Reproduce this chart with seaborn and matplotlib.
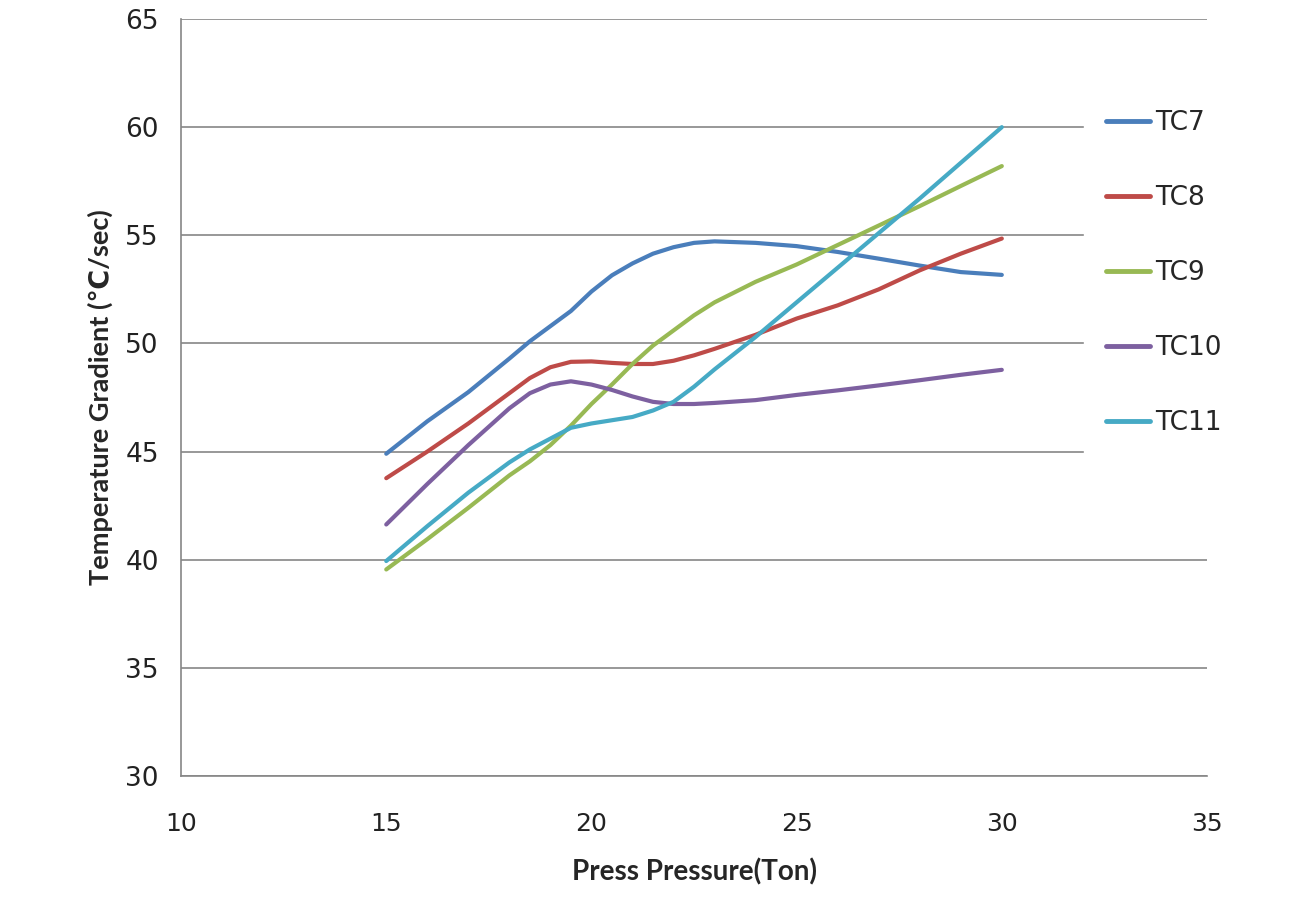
import numpy as np
import pandas as pd
import matplotlib
matplotlib.use("Agg")
import matplotlib.pyplot as plt
import seaborn as sns

# --- values
pressure = [15, 16, 17, 18, 18.5, 19, 19.5, 20, 20.5, 21, 21.5, 22, 22.5, 23, 24, 25, 26, 27, 28, 29, 30]
tc7 = [44.9, 46.4, 47.75, 49.3, 50.1, 50.8, 51.5, 52.4, 53.15, 53.7, 54.15, 54.45, 54.65, 54.72, 54.65, 54.5,
       54.23, 53.92, 53.6, 53.3, 53.17]
tc8 = [43.77, 45.0, 46.3, 47.7, 48.4, 48.9, 49.15, 49.17, 49.1, 49.05, 49.05, 49.2, 49.45, 49.75, 50.4, 51.15,
       51.76, 52.5, 53.38, 54.15, 54.85]
tc9 = [39.55, 40.95, 42.4, 43.9, 44.55, 45.3, 46.2, 47.2, 48.1, 49.05, 49.9, 50.6, 51.3, 51.9, 52.85, 53.65,
       54.55, 55.45, 56.35, 57.28, 58.2]
tc10 = [41.63, 43.5, 45.3, 47.0, 47.7, 48.1, 48.25, 48.1, 47.85, 47.55, 47.3, 47.2, 47.2, 47.25, 47.38, 47.62,
        47.83, 48.06, 48.3, 48.55, 48.78]
tc11 = [39.94, 41.55, 43.1, 44.5, 45.1, 45.6, 46.1, 46.3, 46.45, 46.6, 46.9, 47.3, 48.0, 48.8, 50.3, 51.9,
        53.5, 55.1, 56.7, 58.35, 60.0]

series_names = ["TC7", "TC8", "TC9", "TC10", "TC11"]
series_colors = ["#4A7EBB", "#BE4B48", "#98B954", "#7D60A0", "#46AAC5"]
x_ticks = [10, 15, 20, 25, 30, 35]
y_ticks = [30, 35, 40, 45, 50, 55, 60, 65]

df = pd.concat([
    pd.DataFrame({"pressure": pressure, "gradient": vals, "series": name})
    for name, vals in zip(series_names, [tc7, tc8, tc9, tc10, tc11])
], ignore_index=True)

sns.set_style("white")
grid_col = "#868686"
label_font = ["Lato", "DejaVu Sans"]

fig = plt.figure(figsize=(12.97, 9.01), dpi=100)
ax = fig.add_axes([0.1396, 0.1387, 0.791, 0.8402])

sns.lineplot(data=df, x="pressure", y="gradient", hue="series", hue_order=series_names,
             palette=series_colors, linewidth=3.0, errorbar=None, ax=ax)

ax.set_xlim(10, 35)
ax.set_ylim(30, 65)
ax.set_xticks(x_ticks)
ax.set_yticks(y_ticks)
ax.set_xticklabels([str(v) for v in x_ticks], fontsize=18)
ax.set_yticklabels([str(v) for v in y_ticks], fontsize=19)
ax.tick_params(axis="x", length=0, pad=26, colors="#222222")
ax.tick_params(axis="y", length=0, pad=16, colors="#222222")
ax.grid(axis="y", color=grid_col, linewidth=1.2)
ax.set_axisbelow(True)
for s in ["top", "right"]:
    ax.spines[s].set_visible(False)
for s in ["left", "bottom"]:
    ax.spines[s].set_color(grid_col)
    ax.spines[s].set_linewidth(1.2)

ax.set_xlabel("Press Pressure(Ton)", family=label_font, fontsize=20, fontweight="bold", labelpad=16)
ax.set_ylabel("Temperature Gradient (\u2103/sec)", family=label_font, fontsize=19.5, fontweight="bold",
              labelpad=9)

# legend: white box over the right end of the gridlines
leg = ax.get_legend()
handles = leg.legend_handles
labels = [t.get_text() for t in leg.get_texts()]
leg.remove()
for h in handles:
    h.set_linewidth(3.5)
fig.legend(handles, labels, loc="upper left", bbox_to_anchor=(0.8355, 0.903), frameon=True,
           facecolor="white", edgecolor="white", framealpha=1, fontsize=19, borderpad=0.85,
           handlelength=1.65, handletextpad=0.2, labelspacing=1.86, borderaxespad=0)

fig.savefig("out.png", dpi=100, facecolor="white")
